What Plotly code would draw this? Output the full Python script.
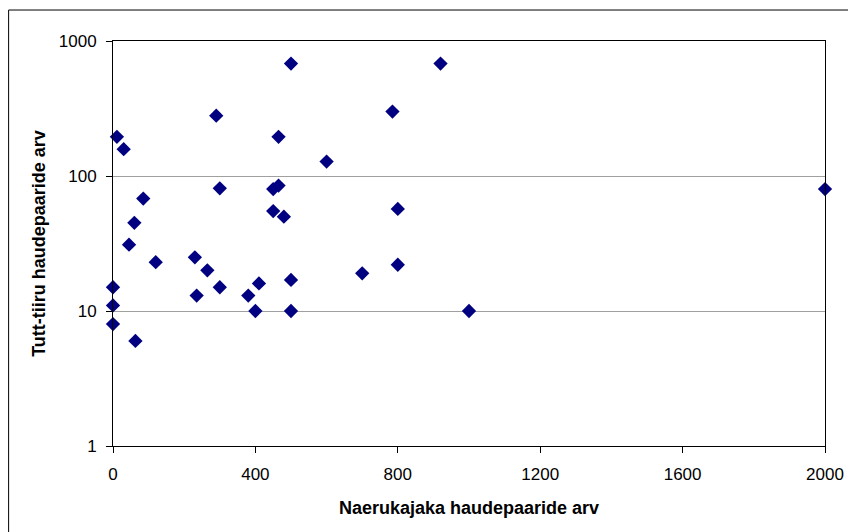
import plotly.graph_objects as go

# Naerukajaka haudepaaride arv (x) vs Tutt-tiiru haudepaaride arv (y)
naerukajakas = [0, 0, 0, 11, 30, 45, 60, 63, 85, 120, 230, 235, 265, 290, 300, 300,
                380, 400, 410, 450, 450, 465, 465, 480, 500, 500, 500, 600, 700, 785,
                800, 800, 920, 1000, 2000]
tutt_tiir = [15, 11, 8, 195, 158, 31, 45, 6, 68, 23, 25, 13, 20, 280, 81, 15,
             13, 10, 16, 80, 55, 195, 85, 50, 680, 17, 10, 128, 19, 300,
             57, 22, 680, 10, 80]

x_ticks = [0, 400, 800, 1200, 1600, 2000]
y_ticks = [1, 10, 100, 1000]

FONT = "Liberation Sans, Arial, sans-serif"

fig = go.Figure()
fig.add_trace(go.Scatter(
    x=naerukajakas, y=tutt_tiir, mode="markers",
    marker=dict(symbol="diamond", size=11, color="#000080",
                line=dict(width=0)),
    showlegend=False, cliponaxis=False,
))

# page body has an 8px margin, so the figure is sized/offset to compensate
fig.update_layout(
    width=848, height=524,
    margin=dict(l=105, r=27, t=33, b=86),
    paper_bgcolor="white", plot_bgcolor="white",
    font=dict(family=FONT, size=17, color="black"),
    xaxis=dict(
        range=[0, 2000], tickvals=x_ticks, ticktext=[str(v) for v in x_ticks],
        showgrid=False, zeroline=False,
        showline=True, linecolor="black", linewidth=1, mirror=True,
        ticks="outside", ticklen=6, tickcolor="black", ticklabelstandoff=7,
        title=dict(text="<b>Naerukajaka haudepaaride arv</b>",
                   font=dict(family=FONT, size=18), standoff=17),
    ),
    yaxis=dict(
        type="log", range=[0, 3], tickvals=y_ticks,
        ticktext=[str(v) for v in y_ticks],
        showgrid=True, gridcolor="#a0a0a0", gridwidth=1, zeroline=False,
        showline=True, linecolor="black", linewidth=1, mirror=True,
        ticks="outside", ticklen=6, tickcolor="black", ticklabelstandoff=6,
        title=dict(text="<b>Tutt-tiiru haudepaaride arv</b>",
                   font=dict(family=FONT, size=18), standoff=8),
    ),
    shapes=[
        dict(type="rect", xref="paper", yref="paper",
             x0=-0.1466, x1=1.2, y0=-0.5, y1=1.0765,
             line=dict(color="black", width=1), layer="below"),
    ],
)

fig.write_html("out.html")
